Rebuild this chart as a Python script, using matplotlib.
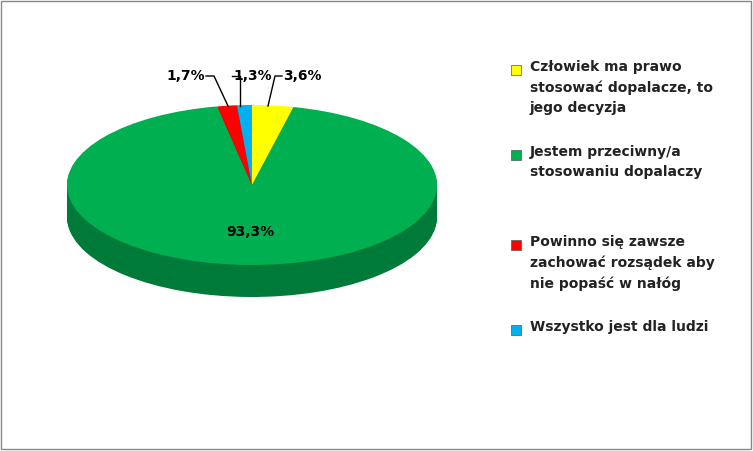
import matplotlib
matplotlib.use("Agg")
import matplotlib.pyplot as plt
from matplotlib.transforms import Affine2D
from matplotlib.patches import Rectangle

labels = ["Człowiek ma prawo\nstosować dopalacze, to\njego decyzja",
          "Jestem przeciwny/a\nstosowaniu dopalaczy",
          "Powinno się zawsze\nzachować rozsądek aby\nnie popaść w nałóg",
          "Wszystko jest dla ludzi"]
values = [3.6, 93.3, 1.7, 1.3]
value_labels = ["3,6%", "93,3%", "1,7%", "1,3%"]
colors = ["#ffff00", "#00b050", "#ff0000", "#00b0f0"]
side_colors = ["#b3b300", "#007a38", "#b30000", "#007aa8"]

W, H = 753, 451
fig = plt.figure(figsize=(W / 100, H / 100), dpi=100)
ax = fig.add_axes([0, 0, 1, 1])
ax.set_xlim(0, W)
ax.set_ylim(H, 0)
ax.axis("off")
ax.add_patch(Rectangle((1, 1), W - 3, H - 3, fill=False, ec="#888888", lw=1))

cx, cy, rx, ry, depth = 252, 185, 185, 80, 32

# side of the cylinder: stack of darker pies
for d in range(depth, 0, -1):
    wedges, _ = ax.pie(values, colors=side_colors, startangle=90, counterclock=False,
                       wedgeprops=dict(lw=0))
    for w in wedges:
        w.set_transform(Affine2D().scale(rx, -ry).translate(cx, cy + d) + ax.transData)
# top face
wedges, _ = ax.pie(values, colors=colors, startangle=90, counterclock=False,
                   wedgeprops=dict(lw=0))
for w in wedges:
    w.set_transform(Affine2D().scale(rx, -ry).translate(cx, cy) + ax.transData)
ax.set_xlim(0, W)
ax.set_ylim(H, 0)
ax.set_aspect("auto")

fs = 10
ax.text(250, 232, value_labels[1], fontsize=fs, fontweight="bold", ha="center", va="center")
ax.text(302, 76, value_labels[0], fontsize=fs, fontweight="bold", ha="center", va="center")
ax.text(253, 76, value_labels[3], fontsize=fs, fontweight="bold", ha="center", va="center")
ax.text(186, 76, value_labels[2], fontsize=fs, fontweight="bold", ha="center", va="center")
ax.plot([232, 240, 240], [76, 76, 106], color="black", lw=1)
ax.plot([206, 214, 228], [76, 76, 106], color="black", lw=1)
ax.plot([282, 275, 268], [76, 76, 106], color="black", lw=1)

ys = [70, 155, 245, 330]
for lab, c, y in zip(labels, colors, ys):
    ax.add_patch(Rectangle((511, y - 5), 10, 10, fc=c, ec="#555555", lw=0.5))
    ax.text(530, y - 10, lab, fontsize=fs, fontweight="bold", ha="left", va="top",
            linespacing=1.55, color="#222222")

fig.savefig("out.png", dpi=100)
